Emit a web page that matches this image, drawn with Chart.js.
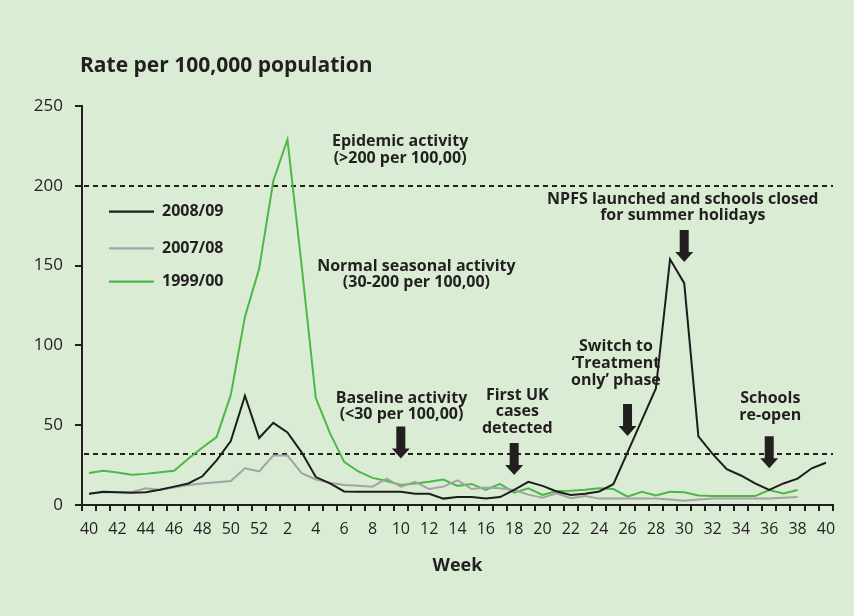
<!DOCTYPE html>
<html>
<head>
<meta charset="utf-8">
<script src="https://cdn.jsdelivr.net/npm/chart.js@4.4.0/dist/chart.umd.min.js"></script>
<style>
html,body{margin:0;padding:0;background:#dbecd5;}
#wrap{width:854px;height:616px;position:relative;}
</style>
</head>
<body>
<div id="wrap"><canvas id="c"></canvas></div>
<script>
// Week numbers: week 40 of 2008 through week 40 of 2009
const weeks = [40,41,42,43,44,45,46,47,48,49,50,51,52,
  1,2,3,4,5,6,7,8,9,10,11,12,13,14,15,16,17,18,19,20,21,22,23,24,25,26,27,28,29,30,
  31,32,33,34,35,36,37,38,39,40];

const series0809 = [7,8.3,8,7.7,8,9.5,11.5,13.5,18,28,40,68.5,42,
  51.5,45.5,33,17.5,13.5,8.5,8.3,8.3,8.3,8.3,7,7,4,5,5,4,5,9.5,14.5,12,8.5,6.3,7,8.5,13,33,53,73,154,139,
  43,32,22.5,18.5,13.5,9.5,13.5,16.5,23,26.5];

const series0708 = [7,8,8,8,10.5,9.5,11,12.5,13.5,14.2,15,23,21,
  31,31,20,16,14,12.5,12,11.5,16.5,11.5,14.5,10,11.5,15.5,10,11,10.5,9.4,6.5,4.5,7.3,4.3,5.6,4,4,4,4,4,3.5,2.7,
  3.5,4,4,4,4,4,4.5,5];

const series9900 = [20,21.5,20.3,19,19.5,20.5,21.5,29,36,42.5,69,118,148,
  203,229,150,67,45,27,21,17,15,12.5,13.5,14.5,16,12,13.2,9.4,13.2,7.7,10.4,6.3,8.8,9,9.5,10.5,10,5.2,8.3,6,8.3,8,
  6,5.7,5.6,5.6,5.6,9.4,7.3,9.4];

const seriesNames = ['2008/09','2007/08','1999/00'];
const seriesColors = ['#1d1d1b','#a3a3a3','#4cb848'];

const yTicks = [0,50,100,150,200,250];
const thresholds = [200, 32];

// annotations: x = category index, y = value at centre of first line
const notes = [
  {x:21.95, y:227.5, lines:['Epidemic activity','(>200 per 100,00)']},
  {x:23.1,  y:149.7, lines:['Normal seasonal activity','(30-200 per 100,00)']},
  {x:41.9,  y:191.6, lines:['NPFS launched and schools closed','for summer holidays']},
  {x:22.05, y:67.0,  lines:['Baseline activity','(<30 per 100,00)']},
  {x:30.22, y:68.9,  lines:['First UK','cases','detected']},
  {x:37.18, y:99.1,  lines:['Switch to','\u2018Treatment','only\u2019 phase']},
  {x:48.07, y:66.8,  lines:['Schools','re-open']}
];
// arrows: category index and value of the tip
const arrows = [
  {x:22, tip:29.2},
  {x:30, tip:18.8},
  {x:38, tip:43.2},
  {x:42, tip:152.3},
  {x:48, tip:23}
];

const TXT = '#231f20';

const overlay = {
  id:'overlay',
  beforeDraw(chart){
    const c = chart.ctx;
    c.save();
    c.fillStyle = '#dbecd5';
    c.fillRect(0,0,chart.width,chart.height);
    c.restore();
  },
  beforeDatasetsDraw(chart){
    const c = chart.ctx, a = chart.chartArea, ys = chart.scales.y;
    c.save();
    c.strokeStyle = TXT;
    c.lineWidth = 2.2;
    c.setLineDash([5,4]);
    thresholds.forEach(v=>{
      const y = Math.round(ys.getPixelForValue(v));
      c.beginPath(); c.moveTo(a.left+2, y); c.lineTo(a.right, y); c.stroke();
    });
    c.restore();
  },
  afterDatasetsDraw(chart){
    const c = chart.ctx, a = chart.chartArea, xs = chart.scales.x, ys = chart.scales.y;
    const x0 = xs.getPixelForValue(0), dx = xs.getPixelForValue(1) - x0;
    const xAt = i => x0 + i*dx;
    c.save();
    // title
    c.fillStyle = TXT;
    c.font = 'bold 21px "Open Sans"';
    c.textAlign = 'left'; c.textBaseline = 'alphabetic';
    c.fillText('Rate per 100,000 population', 80, 72);
    // axis title
    c.font = 'bold 18px "Open Sans"';
    c.textAlign = 'center'; c.textBaseline = 'middle';
    c.fillText('Week', (a.left+a.right)/2, 566);
    // annotations
    c.font = 'bold 16px "Open Sans"';
    notes.forEach(n=>{
      const cx = xAt(n.x), cy = ys.getPixelForValue(n.y);
      n.lines.forEach((t,k)=> c.fillText(t, cx, cy + k*16.7));
    });
    // arrows
    arrows.forEach(ar=>{
      const x = xAt(ar.x), ty = ys.getPixelForValue(ar.tip);
      c.beginPath();
      c.moveTo(x-4.5, ty-32); c.lineTo(x+4.5, ty-32); c.lineTo(x+4.5, ty-10);
      c.lineTo(x+9, ty-10); c.lineTo(x, ty); c.lineTo(x-9, ty-10); c.lineTo(x-4.5, ty-10);
      c.closePath(); c.fill();
    });
    // legend (in series order: 2008/09, 2007/08, 1999/00)
    const ly = [211.7, 248.3, 281.7];
    c.textAlign = 'left';
    seriesNames.forEach((name,k)=>{
      c.strokeStyle = seriesColors[k]; c.lineWidth = 2.2;
      c.beginPath(); c.moveTo(109, ly[k]); c.lineTo(154, ly[k]); c.stroke();
      c.fillStyle = TXT;
      c.fillText(name, 162, ly[k]);
    });
    c.restore();
  }
};

new Chart(document.getElementById('c'), {
  type:'line',
  data:{
    labels: weeks.map(String),
    datasets:[
      {label:seriesNames[2], data:series9900, borderColor:seriesColors[2], borderWidth:2, pointRadius:0, tension:0, order:3},
      {label:seriesNames[1], data:series0708, borderColor:seriesColors[1], borderWidth:2, pointRadius:0, tension:0, order:2},
      {label:seriesNames[0], data:series0809, borderColor:seriesColors[0], borderWidth:2, pointRadius:0, tension:0, order:1}
    ]
  },
  options:{
    responsive:true, maintainAspectRatio:false, animation:false,
    layout:{padding:{top:106, right:21, bottom:0, left:0}},
    plugins:{legend:{display:false}, tooltip:{enabled:false}},
    scales:{
      x:{
        type:'category', offset:true,
        grid:{offset:true, drawOnChartArea:false, drawTicks:true, tickLength:6, color:TXT, lineWidth:2},
        border:{color:TXT, width:2},
        ticks:{autoSkip:false, maxRotation:0, minRotation:0, padding:9, color:TXT,
          font:{family:'Open Sans', size:16},
          callback:(v,i)=> (weeks[i]%2===0 ? String(weeks[i]) : '')},
        afterFit(s){ s.height = 111; }
      },
      y:{
        min:0, max:250,
        afterBuildTicks(s){ s.ticks = yTicks.map(v=>({value:v})); },
        grid:{drawOnChartArea:false, drawTicks:true, tickLength:7, color:TXT, lineWidth:2},
        border:{color:TXT, width:2},
        ticks:{padding:12, color:TXT, font:{family:'Open Sans', size:17}},
        afterFit(s){ s.width = 82; }
      }
    }
  },
  plugins:[overlay]
});
</script>
</body>
</html>
